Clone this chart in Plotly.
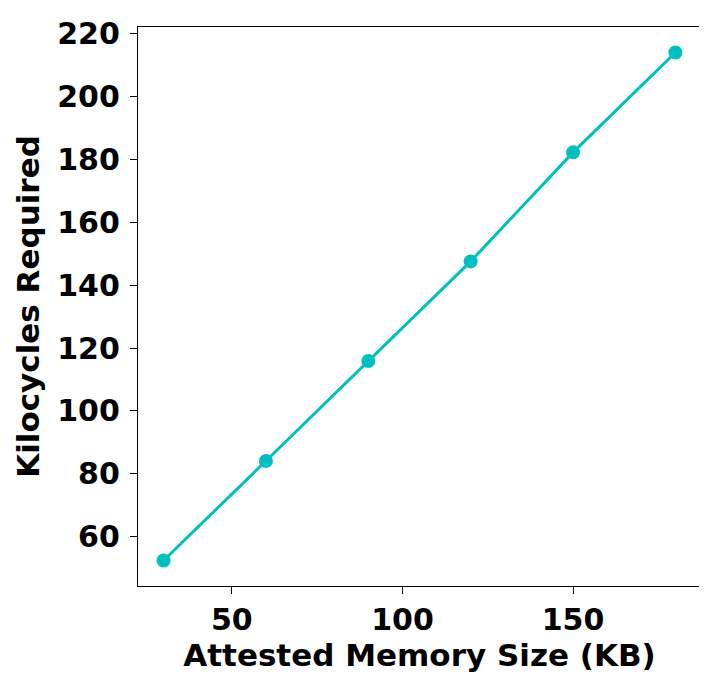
import plotly.graph_objects as go

# Attested memory size (KB) vs kilocycles required
memory_kb = [30, 60, 90, 120, 150, 180]
kilocycles = [52.4, 84.1, 115.9, 147.6, 182.3, 214.1]

x_ticks = [50, 100, 150]
y_ticks = [60, 80, 100, 120, 140, 160, 180, 200, 220]

teal = "#00bfbf"
font_family = "DejaVu Sans"

fig = go.Figure()
fig.add_trace(go.Scatter(
    x=memory_kb, y=kilocycles,
    mode="lines+markers",
    line=dict(color=teal, width=3),
    marker=dict(color=teal, size=14),
    showlegend=False,
))

axis_common = dict(
    showline=True, linecolor="black", linewidth=1.3, mirror=True,
    ticks="outside", ticklen=7, tickwidth=1.3, tickcolor="black",
    showgrid=False, zeroline=False, automargin=False,
    tickfont=dict(family=font_family, size=30, color="black", weight="bold"),
)

fig.update_layout(
    width=707, height=674,
    margin=dict(l=130, r=14, t=19, b=96),
    plot_bgcolor="white", paper_bgcolor="white",
    font=dict(family=font_family, color="black"),
    xaxis=dict(
        range=[22.5, 187.5], tickvals=x_ticks,
        title=dict(text="<b>Attested Memory Size (KB)</b>",
                   font=dict(family=font_family, size=31, color="black"), standoff=6),
        **axis_common,
    ),
    yaxis=dict(
        range=[44.3, 222.2], tickvals=y_ticks, ticklabelstandoff=4,
        title=dict(text="<b>Kilocycles Required</b>",
                   font=dict(family=font_family, size=31, color="black"), standoff=8),
        **axis_common,
    ),
)

fig.write_html("out.html")
